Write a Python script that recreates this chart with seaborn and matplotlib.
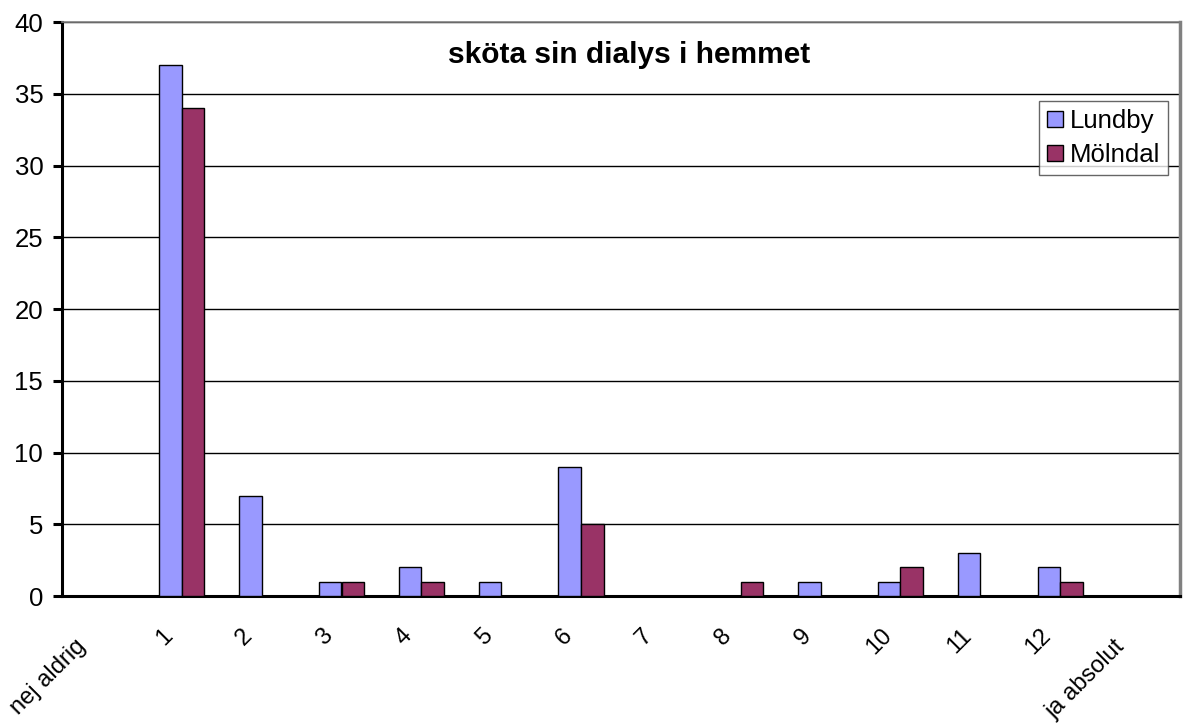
import matplotlib
matplotlib.use("Agg")
import matplotlib.pyplot as plt
import matplotlib.transforms as mtransforms
import seaborn as sns
import pandas as pd

categories = ["nej aldrig", "1", "2", "3", "4", "5", "6", "7", "8", "9",
              "10", "11", "12", "ja absolut"]
lundby = [0, 37, 7, 1, 2, 1, 9, 0, 0, 1, 1, 3, 2, 0]
molndal = [0, 34, 0, 1, 1, 0, 5, 0, 1, 0, 2, 0, 1, 0]
series = ["Lundby", "Mölndal"]
title = "sköta sin dialys i hemmet"

df = pd.DataFrame({
    "kategori": categories * 2,
    "antal": lundby + molndal,
    "ort": [series[0]] * len(categories) + [series[1]] * len(categories),
})

sns.set_style("white")
plt.rcParams["font.family"] = ["Liberation Sans", "DejaVu Sans"]
plt.rcParams["text.color"] = "black"
plt.rcParams["xtick.color"] = "black"
plt.rcParams["ytick.color"] = "black"

fig = plt.figure(figsize=(11.84, 7.23), dpi=100)
ax = fig.add_axes([62 / 1184, 127 / 723, 1118 / 1184, 574 / 723])

sns.barplot(data=df, x="kategori", y="antal", hue="ort", order=categories,
            hue_order=series, palette=["#9999FF", "#993366"], width=0.567,
            edgecolor="black", linewidth=1, saturation=1, ax=ax, zorder=3)

ax.set_xlim(-0.5, len(categories) - 0.5)
ax.set_ylim(0, 40)
ax.set_yticks(range(0, 41, 5))
ax.yaxis.grid(True, color="black", linewidth=1, zorder=0)
ax.set_axisbelow(True)

ax.set_xticks(range(len(categories)))
ax.set_xticklabels(categories, rotation=45, ha="right", va="center",
                   rotation_mode="anchor")
ax.set_xticks([i - 0.5 for i in range(len(categories) + 1)], minor=True)
ax.tick_params(axis="x", which="major", length=0, pad=26, labelsize=17,
               labelcolor="black")
ax.tick_params(axis="x", which="minor", length=6.5, width=2.2,
               direction="out", color="black")
ax.tick_params(axis="y", length=6.5, width=2.2, direction="out",
               color="black", labelsize=18.5, pad=7, left=True,
               labelcolor="black")
# excel pushes the long word labels a bit further down the diagonal
for lab in ax.get_xticklabels():
    if len(lab.get_text()) > 3:
        dx, dy = -0.19, -0.11
    else:
        dx, dy = -0.124, 0
    shift = mtransforms.ScaledTranslation(dx, dy, fig.dpi_scale_trans)
    lab.set_transform(lab.get_transform() + shift)

ax.set_xlabel("")
ax.set_ylabel("")
for side in ["left", "bottom"]:
    ax.spines[side].set_color("black")
    ax.spines[side].set_linewidth(2.2)
ax.spines["top"].set_color("#808080")
ax.spines["top"].set_linewidth(1.2)
ax.spines["right"].set_color("#808080")
ax.spines["right"].set_linewidth(2.5)

ax.text(0.507, 0.943, title, transform=ax.transAxes, ha="center",
        va="center", fontsize=21.5, fontweight="bold")

leg = ax.legend(loc="upper right", bbox_to_anchor=(0.989, 0.862),
                borderaxespad=0, fontsize=18.5, frameon=True, fancybox=False,
                handlelength=0.62, handleheight=0.62, handletextpad=0.27,
                labelspacing=0.4, borderpad=0.3)
leg.get_frame().set_edgecolor("#404040")
leg.get_frame().set_linewidth(1)
for h in leg.legend_handles:
    h.set_edgecolor("black")

fig.savefig("out.png", dpi=100)
